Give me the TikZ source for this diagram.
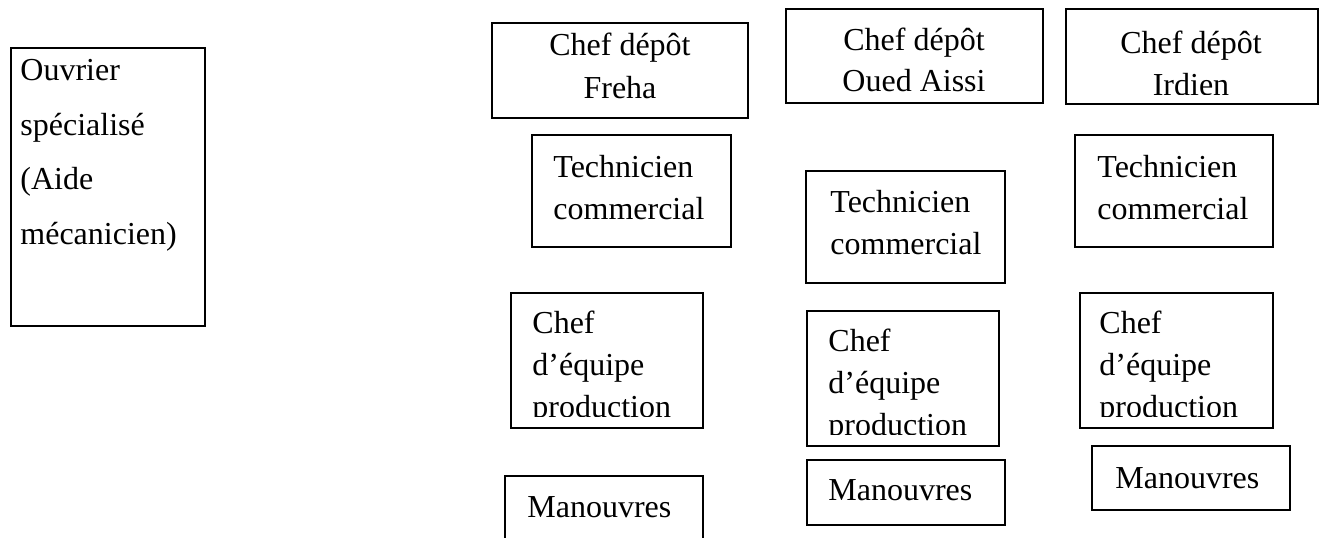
\documentclass[tikz,border=0pt]{standalone}
\usepackage{fontspec}
\setmainfont{Liberation Serif}
\usetikzlibrary{fit}
\begin{document}
\begin{tikzpicture}[x=0.5pt,y=-0.5pt,
  orgbox/.style={draw=black, line width=1pt, inner sep=0pt},
  boxtext/.style={font=\fontsize{16}{21}\selectfont, inner sep=0pt, anchor=base west},
  headtext/.style={font=\fontsize{16}{21.5}\selectfont, inner sep=0pt, anchor=base}]
% page frame
\clip (0,0) rectangle (1320,537);
\fill[white] (0,0) rectangle (1320,537);

% isolated box on the left
\node[orgbox, fit={(11,48) (205,326)}] (ouvrier) {};
\node[boxtext, font=\fontsize{16}{27.25}\selectfont] (ouvrierT) at (20,80.5)
  {\parbox[t]{90pt}{\raggedright Ouvrier\\spécialisé\\(Aide\\mécanicien)}};

% ---- Freha ----
\node[orgbox, fit={(492,23) (748,118)}] (frChef) {};
\node[headtext] (frChefT) at (620,55) {\parbox[t]{120pt}{\centering Chef dépôt\\Freha}};
\node[orgbox, fit={(532,135) (731,247)}] (frTech) {};
\node[boxtext] (frTechT) at (553,177) {\parbox[t]{90pt}{\raggedright Technicien\\commercial}};
\node[orgbox, fit={(511,293) (703,428)}] (frEq) {};
\begin{scope}
  \clip (511,293) rectangle (703,416.5);
  \node[boxtext] (frEqT) at (532,333.5) {\parbox[t]{90pt}{\raggedright Chef\\d’équipe\\production}};
\end{scope}
\node[orgbox, fit={(505,476) (703,560)}] (frMan) {};
\node[boxtext] (frManT) at (527,517) {Manouvres};

% ---- Oued Aissi ----
\node[orgbox, fit={(786,9) (1043,103)}] (ouChef) {};
\node[headtext, font=\fontsize{16}{20.5}\selectfont] (ouChefT) at (914,50) {\parbox[t]{120pt}{\centering Chef dépôt\\Oued Aissi}};
\node[orgbox, fit={(806,171) (1005,283)}] (ouTech) {};
\node[boxtext] (ouTechT) at (830,212) {\parbox[t]{90pt}{\raggedright Technicien\\commercial}};
\node[orgbox, fit={(807,311) (999,446)}] (ouEq) {};
\begin{scope}
  \clip (807,311) rectangle (999,434);
  \node[boxtext] (ouEqT) at (828,351.5) {\parbox[t]{90pt}{\raggedright Chef\\d’équipe\\production}};
\end{scope}
\node[orgbox, fit={(807,460) (1005,525)}] (ouMan) {};
\node[boxtext] (ouManT) at (828,500) {Manouvres};

% ---- Irdien ----
\node[orgbox, fit={(1066,9) (1318,104)}] (irChef) {};
\begin{scope}
  \clip (1066,9) rectangle (1318,94.5);
  \node[headtext, font=\fontsize{16}{21}\selectfont] (irChefT) at (1191,53.5) {\parbox[t]{120pt}{\centering Chef dépôt\\Irdien}};
\end{scope}
\node[orgbox, fit={(1075,135) (1273,247)}] (irTech) {};
\node[boxtext] (irTechT) at (1097,177) {\parbox[t]{90pt}{\raggedright Technicien\\commercial}};
\node[orgbox, fit={(1080,293) (1273,428)}] (irEq) {};
\begin{scope}
  \clip (1080,293) rectangle (1273,416.5);
  \node[boxtext] (irEqT) at (1099,333.5) {\parbox[t]{90pt}{\raggedright Chef\\d’équipe\\production}};
\end{scope}
\node[orgbox, fit={(1092,446) (1290,510)}] (irMan) {};
\node[boxtext] (irManT) at (1115,488.5) {Manouvres};
\end{tikzpicture}
\end{document}
